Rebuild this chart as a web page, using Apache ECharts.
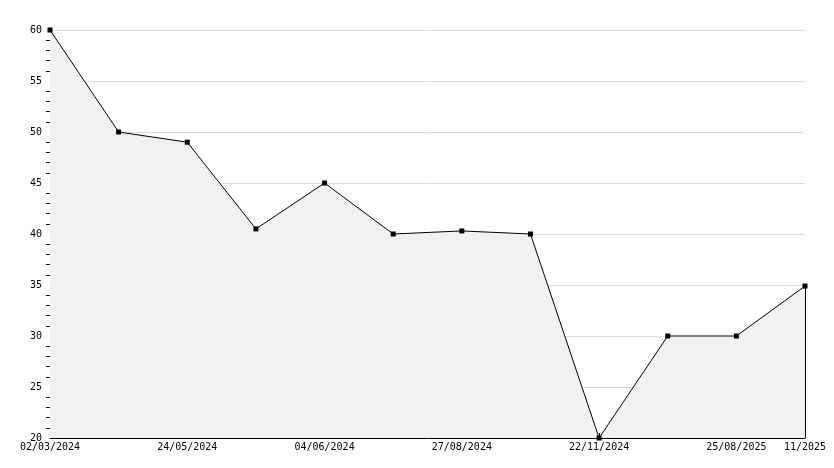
<!DOCTYPE html>
<html>
<head>
<meta charset="utf-8">
<script src="https://cdn.jsdelivr.net/npm/echarts@6/dist/echarts.min.js"></script>
<style>html,body{margin:0;background:#fff}#container{width:834px;height:468px}</style>
</head>
<body>
<div id="container"></div>
<script>
var dates = ['02/03/2024', '01/05/2024', '24/05/2024', '03/06/2024', '04/06/2024', '26/08/2024',
    '27/08/2024', '28/08/2024', '22/11/2024', '25/06/2025', '25/08/2025', '11/2025'];
var values = [60, 50, 49, 40.5, 45, 40, 40.3, 40, 20, 30, 30, 34.9];

var myChart = echarts.init(document.getElementById('container'));
var font = 'DejaVu Sans Mono';
var option = {
    animation: false,
    grid: { left: 50, right: 29, top: 30, bottom: 30 },
    xAxis: {
        type: 'category',
        data: dates,
        boundaryGap: false,
        axisLine: { lineStyle: { color: '#000', width: 1 } },
        axisTick: { inside: true, length: 5, lineStyle: { color: '#000' } },
        axisLabel: { color: '#000', fontFamily: font, fontSize: 10, margin: 4, showMaxLabel: true },
        splitLine: { show: false }
    },
    yAxis: {
        type: 'value',
        min: 20, max: 60, interval: 5,
        axisLine: { show: true, lineStyle: { color: '#000', width: 1 } },
        axisTick: { show: false },
        minorTick: { show: true, splitNumber: 5, length: 4, lineStyle: { color: '#000' } },
        axisLabel: { color: '#000', fontFamily: font, fontSize: 10, margin: 8 },
        splitLine: { lineStyle: { color: '#dddddd' } }
    },
    series: [{
        type: 'line',
        data: values,
        symbol: 'rect',
        symbolSize: 5,
        itemStyle: { color: '#000' },
        lineStyle: { color: '#000', width: 1 },
        areaStyle: { color: '#f1f1f1', opacity: 1 },
        markLine: {
            silent: true, symbol: 'none', label: { show: false },
            lineStyle: { color: '#000', type: 'solid', width: 1 },
            data: [[{ coord: [dates.length - 1, 20] }, { coord: [dates.length - 1, values[values.length - 1]] }]]
        }
    }]
};
myChart.setOption(option);
</script>
</body>
</html>
